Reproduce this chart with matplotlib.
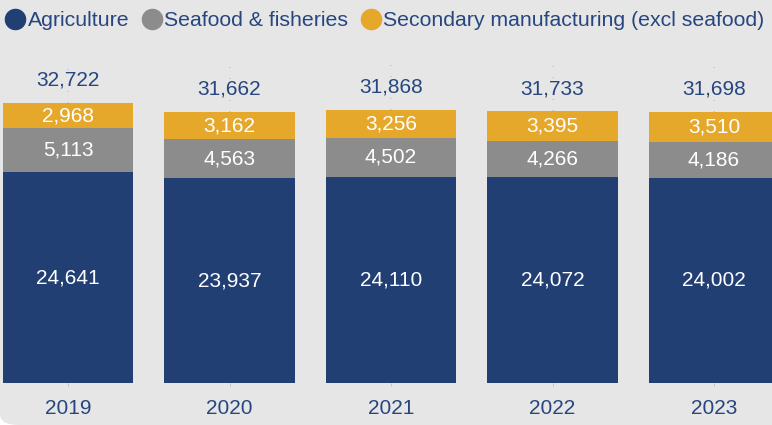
import matplotlib.pyplot as plt
from matplotlib.lines import Line2D
from matplotlib.patches import FancyBboxPatch
import numpy as np

plt.rcParams['font.family'] = ['Liberation Sans', 'DejaVu Sans']

years = ['2019', '2020', '2021', '2022', '2023']
agriculture = [24641, 23937, 24110, 24072, 24002]
seafood = [5113, 4563, 4502, 4266, 4186]
secondary = [2968, 3162, 3256, 3395, 3510]
totals = [32722, 31662, 31868, 31733, 31698]

navy = '#223f74'
grey = '#8c8c8c'
gold = '#e5a82b'
text_col = '#27467f'
bg = '#e6e6e6'

fig = plt.figure(figsize=(7.72, 4.25), dpi=100, facecolor='white')
# panel background, rounded corner at bottom-left
panel = FancyBboxPatch((0.0, 0.0), 1.2, 1.2, boxstyle='round,pad=0,rounding_size=0.025',
                       transform=fig.transFigure, facecolor=bg, edgecolor='none', zorder=-5)
fig.patches.append(panel)

ax = fig.add_axes([0, (425 - 383) / 425, 1, 383 / 425])
ax.set_facecolor('none')
ax.set_zorder(2)

x = np.arange(len(years))
w = 0.805
agri = np.array(agriculture)
sea = np.array(seafood)
sec = np.array(secondary)

ax.bar(x, agri, w, color=navy, zorder=2)
ax.bar(x, sea, w, bottom=agri, color=grey, zorder=2)
ax.bar(x, sec, w, bottom=agri + sea, color=gold, zorder=2)

# faint dotted leaders above bars
ax.vlines(x, agri + sea + sec, 37400, colors='#c9c9c9', linestyles=(0, (0.6, 6)), lw=1.2, zorder=1)

for i in range(len(years)):
    ax.text(x[i], agri[i] / 2, f'{agri[i]:,}', ha='center', va='center', color='white', fontsize=15, zorder=3)
    ax.text(x[i], agri[i] + sea[i] / 2, f'{sea[i]:,}', ha='center', va='center', color='white', fontsize=15, zorder=3)
    ax.text(x[i], agri[i] + sea[i] + sec[i] / 2, f'{sec[i]:,}', ha='center', va='center', color='white', fontsize=15, zorder=3)
    ax.annotate(f'{totals[i]:,}', (x[i], agri[i] + sea[i] + sec[i]), xytext=(0, 16.5),
                textcoords='offset points', ha='center', va='center', color=text_col, fontsize=15,
                bbox=dict(boxstyle='square,pad=0.05', fc=bg, ec='none'), zorder=3)

ax.set_xlim(-68 / 161.5, (772 - 68) / 161.5)
ax.set_ylim(0, 383 / 0.008557)
ax.set_xticks(x)
ax.set_xticklabels(years, fontsize=15, color=text_col)
ax.tick_params(axis='x', length=2.5, color='#c4c4c4', pad=9)
ax.set_yticks([])
for s in ax.spines.values():
    s.set_visible(False)

handles = [Line2D([], [], marker='o', linestyle='None', markersize=14.5, color=c, label=l)
           for c, l in [(navy, 'Agriculture'), (grey, 'Seafood & fisheries'),
                        (gold, 'Secondary manufacturing (excl seafood)')]]
leg = fig.legend(handles=handles, loc='upper left', bbox_to_anchor=(-0.004, 0.994), ncol=3,
                 frameon=False, fontsize=15.3, handlelength=0.9, handletextpad=0.15,
                 columnspacing=0.6, borderaxespad=0)
for t in leg.get_texts():
    t.set_color(text_col)

fig.savefig('out.png', dpi=100, facecolor='white')
